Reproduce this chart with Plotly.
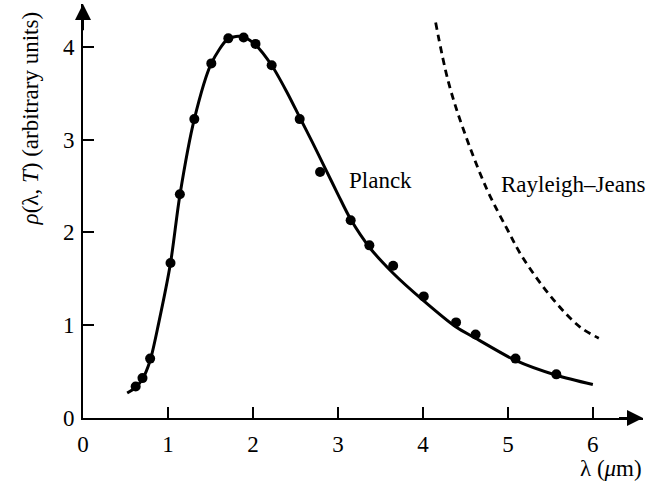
import plotly.graph_objects as go

# Measured data points (wavelength in micrometres, energy density arbitrary units)
data_lambda = [0.62, 0.70, 0.79, 1.03, 1.14, 1.31, 1.51, 1.71, 1.89, 2.03, 2.22,
               2.55, 2.79, 3.15, 3.37, 3.65, 4.01, 4.39, 4.62, 5.09, 5.57]
data_rho = [0.34, 0.43, 0.64, 1.67, 2.41, 3.22, 3.82, 4.09, 4.10, 4.03, 3.80,
            3.22, 2.65, 2.13, 1.86, 1.64, 1.31, 1.03, 0.90, 0.64, 0.47]

# Planck curve
planck_lambda = [0.52, 0.62, 0.70, 0.79, 0.89, 1.03, 1.14, 1.31, 1.51, 1.70, 1.80,
                 1.90, 2.03, 2.22, 2.40, 2.55, 2.70, 2.85, 3.00, 3.15, 3.37, 3.65,
                 4.00, 4.39, 4.62, 5.09, 5.57, 6.00]
planck_rho = [0.27, 0.33, 0.42, 0.62, 1.02, 1.67, 2.40, 3.22, 3.82, 4.08, 4.11,
              4.10, 4.02, 3.80, 3.51, 3.24, 2.97, 2.69, 2.41, 2.14, 1.84, 1.56,
              1.27, 0.98, 0.86, 0.62, 0.46, 0.36]

# Rayleigh-Jeans curve
rj_lambda = [4.15, 4.30, 4.48, 4.75, 5.00, 5.18, 5.54, 5.85, 6.07]
rj_rho = [4.26, 3.62, 3.10, 2.47, 2.02, 1.72, 1.27, 0.98, 0.86]

x_ticks = [0, 1, 2, 3, 4, 5, 6]
y_ticks = [0, 1, 2, 3, 4]

FONT = "Liberation Serif"

fig = go.Figure()
fig.add_trace(go.Scatter(x=planck_lambda, y=planck_rho, mode="lines",
                         line=dict(color="black", width=3, shape="spline", smoothing=0.8),
                         hoverinfo="skip"))
fig.add_trace(go.Scatter(x=rj_lambda, y=rj_rho, mode="lines",
                         line=dict(color="black", width=2.8, dash="7px,5px", shape="spline"),
                         hoverinfo="skip"))
fig.add_trace(go.Scatter(x=data_lambda, y=data_rho, mode="markers",
                         marker=dict(color="black", size=10, line=dict(width=0)),
                         hoverinfo="skip"))

XMAX = 6.59
YMAX = 4.46

fig.update_layout(
    width=649, height=483,
    margin=dict(l=82.7, r=6, t=4, b=65.3),
    paper_bgcolor="white", plot_bgcolor="white",
    showlegend=False,
    font=dict(family=FONT, color="black", size=23),
    xaxis=dict(range=[0, XMAX], tickvals=x_ticks, ticktext=[str(v) for v in x_ticks],
               ticks="inside", ticklen=11, tickwidth=1.5, tickcolor="black",
               showline=True, linecolor="black", linewidth=2,
               showgrid=False, zeroline=False, fixedrange=True,
               ticklabelstandoff=4,
               tickfont=dict(family=FONT, size=23, color="black")),
    yaxis=dict(range=[0, YMAX], tickvals=y_ticks, ticktext=[str(v) for v in y_ticks],
               ticks="inside", ticklen=11, tickwidth=1.5, tickcolor="black",
               showline=True, linecolor="black", linewidth=2,
               showgrid=False, zeroline=False, fixedrange=True,
               ticklabelstandoff=2,
               tickfont=dict(family=FONT, size=23, color="black")),
)

# axis arrowheads
fig.add_annotation(x=XMAX, y=0, ax=XMAX - 0.3, ay=0, xref="x", yref="y", axref="x", ayref="y",
                   showarrow=True, arrowhead=2, arrowsize=1.6, arrowwidth=2, arrowcolor="black",
                   text="")
fig.add_annotation(x=0, y=YMAX, ax=0, ay=YMAX - 0.3, xref="x", yref="y", axref="x", ayref="y",
                   showarrow=True, arrowhead=2, arrowsize=1.6, arrowwidth=2, arrowcolor="black",
                   text="")

# labels
fig.add_annotation(x=3.106, y=2.56, xref="x", yref="y", text="Planck", showarrow=False,
                   xanchor="left", yanchor="middle", font=dict(family=FONT, size=23))
fig.add_annotation(x=4.90, y=2.52, xref="x", yref="y", text="Rayleigh–Jeans", showarrow=False,
                   xanchor="left", yanchor="middle", font=dict(family=FONT, size=23))
fig.add_annotation(x=-0.094, y=0.7245, xref="paper", yref="paper",
                   text="<i>ρ</i>(λ, <i>T</i>) (arbitrary units)", showarrow=False,
                   textangle=-90, xanchor="center", yanchor="middle",
                   font=dict(family=FONT, size=23))
fig.add_annotation(x=0.943, y=-0.1216, xref="paper", yref="paper",
                   text="λ (<i>μ</i>m)", showarrow=False,
                   xanchor="center", yanchor="middle", font=dict(family=FONT, size=23))

fig.write_html("out.html")
